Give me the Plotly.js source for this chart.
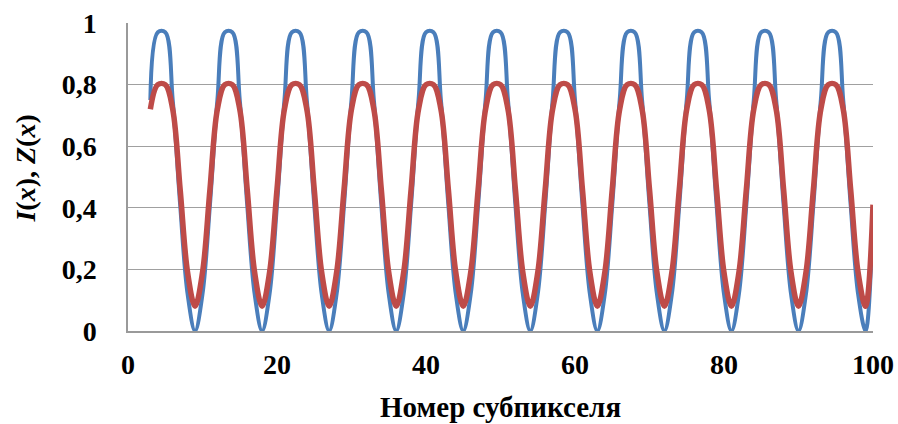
<!DOCTYPE html>
<html>
<head>
<meta charset="utf-8">
<script src="https://cdn.plot.ly/plotly-3.0.1.min.js"></script>
<style>
  html, body { margin: 0; padding: 0; background: #ffffff; }
  /* Off-screen sample of the label faces so the browser activates them before the SVG is drawn. */
  .face-warmup { position: absolute; left: -9999px; top: 0; font-family: 'Liberation Serif'; font-size: 28px; font-weight: bold; }
  .face-warmup i { font-style: italic; }
</style>
</head>
<body>
<div class="face-warmup">0,8 100 Номер субпикселя <i>I x Z</i></div>
<div id="chart"></div>
<script>
// Subpixel numbers start at 3 and run to 100, one sample per subpixel.
const firstSubpixel = 3;

// I(x): intensity profile, one value per subpixel.
const intensityI = [
  0.75, 0.97, 0.97, 0.75, 0.41, 0.12, 0.00, 0.12, 0.41,
  0.75, 0.97, 0.97, 0.75, 0.41, 0.12, 0.00, 0.12, 0.41,
  0.75, 0.97, 0.97, 0.75, 0.41, 0.12, 0.00, 0.12, 0.41,
  0.75, 0.97, 0.97, 0.75, 0.41, 0.12, 0.00, 0.12, 0.41,
  0.75, 0.97, 0.97, 0.75, 0.41, 0.12, 0.00, 0.12, 0.41,
  0.75, 0.97, 0.97, 0.75, 0.41, 0.12, 0.00, 0.12, 0.41,
  0.75, 0.97, 0.97, 0.75, 0.41, 0.12, 0.00, 0.12, 0.41,
  0.75, 0.97, 0.97, 0.75, 0.41, 0.12, 0.00, 0.12, 0.41,
  0.75, 0.97, 0.97, 0.75, 0.41, 0.12, 0.00, 0.12, 0.41,
  0.75, 0.97, 0.97, 0.75, 0.41, 0.12, 0.00, 0.12, 0.41,
  0.75, 0.97, 0.97, 0.75, 0.41, 0.12, 0.00, 0.40
];

// Z(x): response profile, one value per subpixel.
const responseZ = [
  0.72, 0.80, 0.80, 0.72, 0.46, 0.19, 0.08, 0.19, 0.46,
  0.72, 0.80, 0.80, 0.72, 0.46, 0.19, 0.08, 0.19, 0.46,
  0.72, 0.80, 0.80, 0.72, 0.46, 0.19, 0.08, 0.19, 0.46,
  0.72, 0.80, 0.80, 0.72, 0.46, 0.19, 0.08, 0.19, 0.46,
  0.72, 0.80, 0.80, 0.72, 0.46, 0.19, 0.08, 0.19, 0.46,
  0.72, 0.80, 0.80, 0.72, 0.46, 0.19, 0.08, 0.19, 0.46,
  0.72, 0.80, 0.80, 0.72, 0.46, 0.19, 0.08, 0.19, 0.46,
  0.72, 0.80, 0.80, 0.72, 0.46, 0.19, 0.08, 0.19, 0.46,
  0.72, 0.80, 0.80, 0.72, 0.46, 0.19, 0.08, 0.19, 0.46,
  0.72, 0.80, 0.80, 0.72, 0.46, 0.19, 0.08, 0.19, 0.46,
  0.72, 0.80, 0.80, 0.72, 0.46, 0.19, 0.08, 0.41
];

const subpixels = intensityI.map((_, i) => firstSubpixel + i);

const xTickValues = [0, 20, 40, 60, 80, 100];
const yTickValues = [0, 0.2, 0.4, 0.6, 0.8, 1];

const xTitle = 'Номер субпикселя';
const yTitle = '<i>I</i>(<i>x</i>), <i>Z</i>(<i>x</i>)';

const FONT_FAMILY = 'Liberation Serif';

function labelFont(size) {
  return { family: FONT_FAMILY, size: size, weight: 'bold', color: '#000000' };
}

const traces = [
  {
    x: subpixels, y: intensityI, name: 'I(x)',
    type: 'scatter', mode: 'lines',
    line: { color: '#4a7ebb', width: 4, shape: 'spline', smoothing: 1 },
    hoverinfo: 'skip'
  },
  {
    x: subpixels, y: responseZ, name: 'Z(x)',
    type: 'scatter', mode: 'lines',
    line: { color: '#be4b48', width: 5.5, shape: 'spline', smoothing: 1 },
    hoverinfo: 'skip'
  }
];

const layout = {
  width: 898, height: 424,
  margin: { l: 128, r: 25, t: 23, b: 93, pad: 0 },
  paper_bgcolor: '#ffffff', plot_bgcolor: '#ffffff',
  separators: ', ',
  showlegend: false,
  xaxis: {
    range: [0, 100], tickvals: xTickValues,
    showgrid: false, zeroline: false,
    showline: true, linecolor: '#9a9a9a', linewidth: 1.5,
    ticks: '', ticklabelstandoff: 8,
    tickfont: labelFont(28),
    automargin: false
  },
  yaxis: {
    range: [0, 1], tickvals: yTickValues,
    showgrid: true, gridcolor: '#a0a0a0', gridwidth: 1,
    zeroline: false,
    showline: true, linecolor: '#9a9a9a', linewidth: 1.5,
    ticks: '', ticklabelstandoff: 24,
    tickfont: labelFont(28),
    automargin: false
  },
  // Axis captions, placed relative to the plotting area.
  annotations: [
    {
      text: xTitle, xref: 'paper', yref: 'paper', x: 0.5, y: -0.247,
      xanchor: 'center', yanchor: 'middle', showarrow: false,
      font: labelFont(29)
    },
    {
      text: yTitle, xref: 'paper', yref: 'paper', x: -0.138, y: 0.528,
      xanchor: 'center', yanchor: 'middle', showarrow: false, textangle: -90,
      font: labelFont(28)
    }
  ]
};

const config = { displayModeBar: false };
Plotly.newPlot('chart', traces, layout, config);

// Redraw once the serif faces are active so label metrics use them.
if (document.fonts && document.fonts.ready) {
  document.fonts.ready.then(() => Plotly.react('chart', traces, layout, config));
}
</script>
</body>
</html>
